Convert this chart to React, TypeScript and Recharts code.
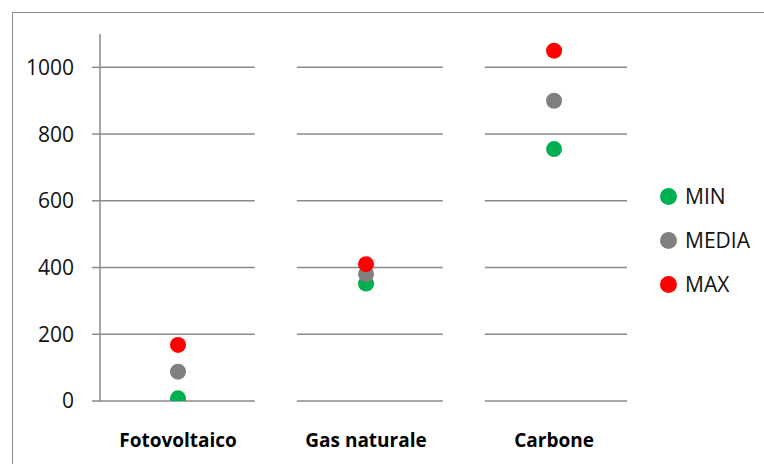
import React from 'react';
import { ScatterChart, Scatter, XAxis, YAxis, CartesianGrid } from 'recharts';

const categories = ['Fotovoltaico', 'Gas naturale', 'Carbone'];
const minValues = [8, 352, 755];
const mediaValues = [88, 380, 900];
const maxValues = [168, 410, 1050];
const yTicks = [0, 200, 400, 600, 800, 1000];

const series = [
  { name: 'MIN', color: '#00b050', values: minValues },
  { name: 'MEDIA', color: '#808080', values: mediaValues },
  { name: 'MAX', color: '#ff0000', values: maxValues },
];

const X_DOMAIN: [number, number] = [0.585, 3.388];
const FONT = '"Open Sans", "Liberation Sans", sans-serif';

const toPoints = (values: number[]) => values.map((v, i) => ({ x: i + 1, y: v }));

const Dot = (color: string) => (p: any) => <circle cx={p.cx} cy={p.cy} r={8} fill={color} />;

// gridlines are broken between categories, like the original
const GridLine = (props: any) => {
  const { x1, x2, y1 } = props;
  const px = (v: number) => x1 + ((v - X_DOMAIN[0]) / (X_DOMAIN[1] - X_DOMAIN[0])) * (x2 - x1);
  const gap = 21;
  const cuts = [1.52, 2.52].map(px);
  const segs = [
    [x1, cuts[0] - gap],
    [cuts[0] + gap, cuts[1] - gap],
    [cuts[1] + gap, x2],
  ];
  return (
    <g>
      {segs.map(([a, b], i) => (
        <line key={i} x1={a} x2={b} y1={y1} y2={y1} stroke="#8a8a8a" strokeWidth={1.5} />
      ))}
    </g>
  );
};

const LegendBox = () => (
  <div style={{ position: 'absolute', left: 660, top: 174, fontFamily: FONT, fontSize: 21, color: '#111' }}>
    {series.map((s) => (
      <div key={s.name} style={{ display: 'flex', alignItems: 'center', height: 44 }}>
        <span
          style={{
            width: 17,
            height: 17,
            borderRadius: '50%',
            background: s.color,
            display: 'inline-block',
            marginRight: 8,
          }}
        />
        <span>{s.name}</span>
      </div>
    ))}
  </div>
);

export default function App() {
  return (
    <div style={{ position: 'fixed', left: 0, top: 0, width: 764, height: 464, background: '#fff', overflow: 'hidden' }}>
      <div
        style={{
          position: 'absolute',
          left: 12,
          top: 12,
          width: 800,
          height: 500,
          border: '1.5px solid #8a8a8a',
        }}
      />
      <div style={{ position: 'absolute', left: 0, top: 0 }}>
        <ScatterChart width={764} height={464} margin={{ top: 34, right: 137, bottom: 33, left: 12 }}>
          <CartesianGrid vertical={false} horizontal={<GridLine />} horizontalValues={yTicks} />
          <XAxis
            type="number"
            dataKey="x"
            domain={X_DOMAIN}
            ticks={[1, 2, 3]}
            tickFormatter={(v) => categories[v - 1]}
            axisLine={false}
            tickLine={false}
            tickSize={0}
            tickMargin={33}
            height={30}
            tick={{ fill: '#000', fontSize: 19, fontWeight: 700, fontFamily: FONT }}
            allowDataOverflow
          />
          <YAxis
            type="number"
            dataKey="y"
            domain={[0, 1100]}
            ticks={yTicks}
            width={88}
            axisLine={{ stroke: '#8a8a8a', strokeWidth: 1.5 }}
            tickLine={{ stroke: '#8a8a8a', strokeWidth: 1.5 }}
            tickSize={8}
            tickMargin={18}
            tick={{ fill: '#111', fontSize: 21, fontFamily: FONT }}
            allowDataOverflow
          />
          {series.map((s) => (
            <Scatter
              key={s.name}
              name={s.name}
              data={toPoints(s.values)}
              fill={s.color}
              shape={Dot(s.color)}
              isAnimationActive={false}
            />
          ))}
        </ScatterChart>
      </div>
      <LegendBox />
    </div>
  );
}
